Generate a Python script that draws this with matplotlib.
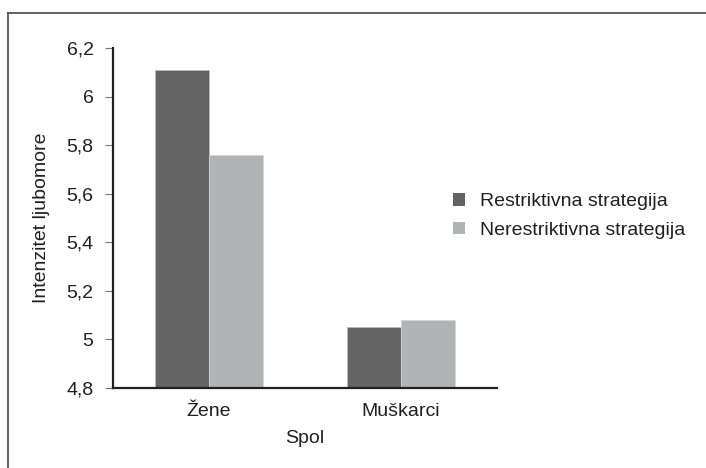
import matplotlib
matplotlib.use("Agg")
import matplotlib.pyplot as plt
from matplotlib.lines import Line2D
import numpy as np

plt.rcParams['font.family'] = ['Liberation Sans', 'DejaVu Sans']

categories = ["Žene", "Muškarci"]
series_names = ["Restriktivna strategija", "Nerestriktivna strategija"]
restriktivna = [6.11, 5.05]
nerestriktivna = [5.76, 5.08]
yticks = [4.8, 5.0, 5.2, 5.4, 5.6, 5.8, 6.0, 6.2]
ytick_labels = ["4,8", "5", "5,2", "5,4", "5,6", "5,8", "6", "6,2"]

FS = 14
TXT = "#231f20"

fig = plt.figure(figsize=(7.06, 4.68), dpi=100)
ax = fig.add_axes([0.160, 0.171, 0.544, 0.726])

x = np.arange(len(categories))
w = 0.28
ax.bar(x - w/2, restriktivna, w, color="#636363", edgecolor="#bdbdbd", linewidth=0.6, label=series_names[0], zorder=2)
ax.bar(x + w/2, nerestriktivna, w, color="#b2b3b7", edgecolor="#d5d5d8", linewidth=0.6, label=series_names[1], zorder=2)

ax.set_xlim(-0.5, 1.5)
ax.set_ylim(4.8, 6.2)
ax.set_yticks(yticks)
ax.set_yticklabels(ytick_labels, fontsize=FS, color=TXT)
ax.set_xticks(x)
ax.set_xticklabels(categories, fontsize=FS, color=TXT)
ax.tick_params(axis='x', length=0, pad=11)
ax.tick_params(axis='y', direction='out', length=6, width=0.8, color="#777777", pad=8)

for s in ['top', 'right']:
    ax.spines[s].set_visible(False)
for s in ['left', 'bottom']:
    ax.spines[s].set_linewidth(1.6)
    ax.spines[s].set_color(TXT)

ax.set_xlabel("Spol", fontsize=FS, color=TXT, labelpad=7)
ax.set_ylabel("Intenzitet ljubomore", fontsize=FS, color=TXT, labelpad=12)

leg = ax.legend(loc='center left', bbox_to_anchor=(0.885, 0.506), frameon=False,
                fontsize=FS, handlelength=0.6, handleheight=0.6, borderpad=0,
                borderaxespad=0, handletextpad=0.8, labelspacing=0.6)
for t in leg.get_texts():
    t.set_color(TXT)
for h in leg.legend_handles:
    h.set_edgecolor('none')

# figure frame (top and left edges)
fig.add_artist(Line2D([8/706, 1.0], [1 - 12.5/468, 1 - 12.5/468], transform=fig.transFigure, color="#555555", linewidth=1.3))
fig.add_artist(Line2D([8/706, 8/706], [0.0, 1 - 12.5/468], transform=fig.transFigure, color="#555555", linewidth=1.3))

fig.savefig("out.png", dpi=100)
